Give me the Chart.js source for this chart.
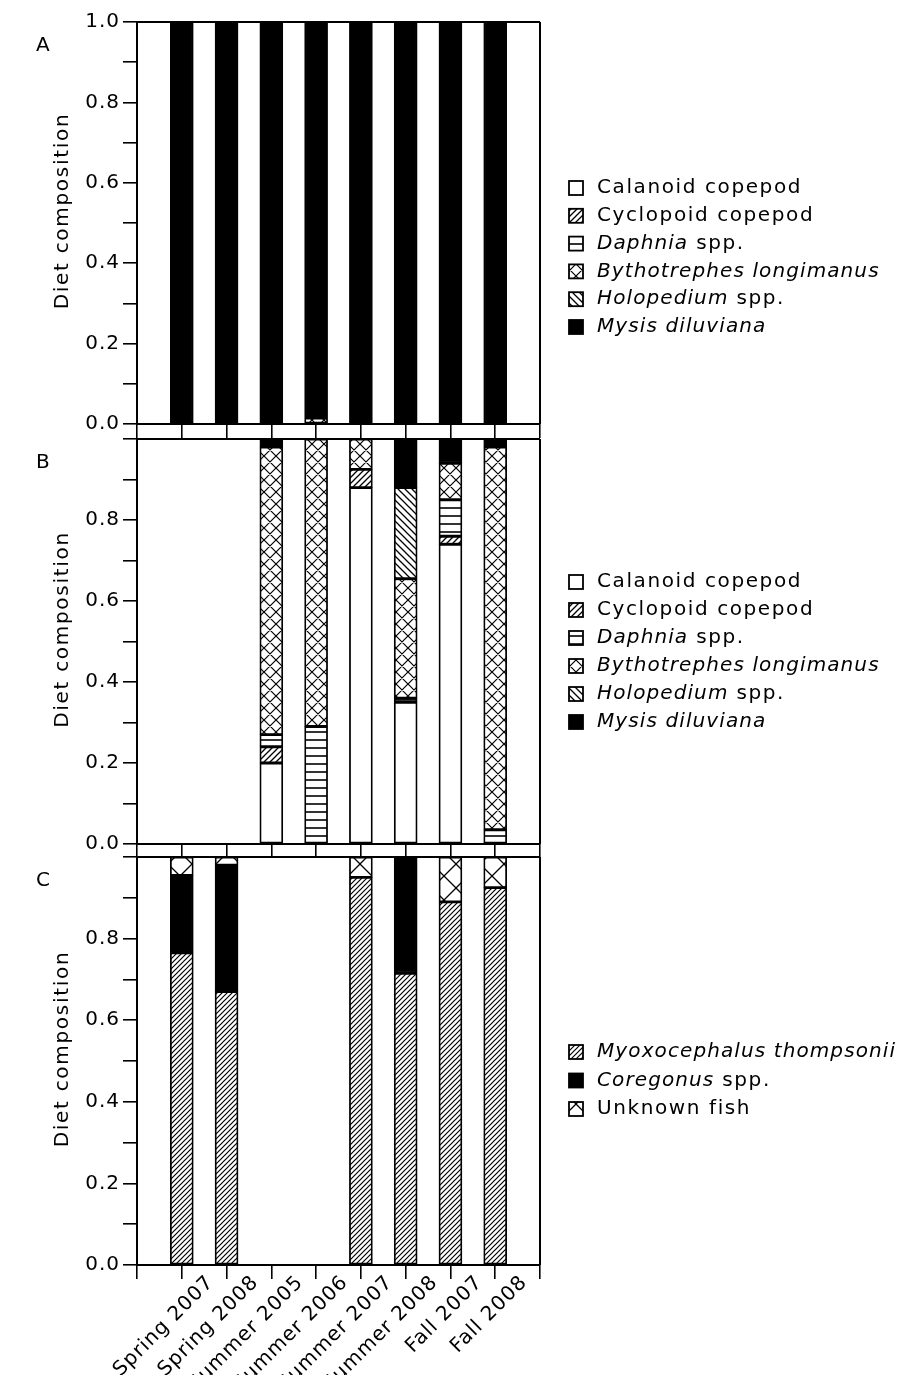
<!DOCTYPE html>
<html><head><meta charset="utf-8">
<script src="https://cdn.jsdelivr.net/npm/chart.js@4.4.1/dist/chart.umd.min.js"></script>
<style>
html,body{margin:0;padding:0;background:#fff;}
#wrap{position:relative;width:904px;height:1389px;overflow:hidden;background:#fff;}
canvas{position:absolute;left:0;top:0;}
</style></head><body>
<div id="wrap">
<canvas id="cA" width="904" height="1389"></canvas>
<canvas id="cB" width="904" height="1389"></canvas>
<canvas id="cC" width="904" height="1389"></canvas>
</div>
<script>
// ---------- data ----------
const categories = ['Spring 2007','Spring 2008','Summer 2005','Summer 2006','Summer 2007','Summer 2008','Fall 2007','Fall 2008'];

// Panel A
const aCalanoid     = [0, 0, 0, 0, 0, 0, 0, 0];
const aCyclopoid    = [0, 0, 0, 0, 0, 0, 0, 0];
const aDaphnia      = [0, 0, 0, 0, 0, 0, 0, 0];
const aBythotrephes = [0, 0, 0, 0.015, 0, 0, 0, 0];
const aHolopedium   = [0, 0, 0, 0, 0, 0, 0, 0];
const aMysis        = [1, 1, 1, 0.985, 1, 1, 1, 1];

// Panel B
const bCalanoid     = [null, null, 0.20, 0,    0.88,  0.35,  0.74, 0];
const bCyclopoid    = [null, null, 0.04, 0,    0.045, 0,     0.02, 0];
const bDaphnia      = [null, null, 0.03, 0.29, 0,     0.01,  0.09, 0.035];
const bBythotrephes = [null, null, 0.71, 0.71, 0.075, 0.295, 0.09, 0.945];
const bHolopedium   = [null, null, 0,    0,    0,     0.225, 0,    0];
const bMysis        = [null, null, 0.02, 0,    0,     0.12,  0.06, 0.02];

// Panel C
const cMyoxocephalus = [0.765, 0.67, 0, 0, 0.95, 0.715, 0.89, 0.925];
const cCoregonus     = [0.19,  0.31, 0, 0, 0,    0.285, 0,    0];
const cUnknownFish   = [0.045, 0.02, 0, 0, 0.05, 0,     0.11, 0.075];

const yAxisTitle = 'Diet composition';
const panelLetters = ['A', 'B', 'C'];
const zooLegend = [
  [['Calanoid copepod', false]],
  [['Cyclopoid copepod', false]],
  [['Daphnia', true], [' spp.', false]],
  [['Bythotrephes longimanus', true]],
  [['Holopedium', true], [' spp.', false]],
  [['Mysis diluviana', true]]
];
const fishLegend = [
  [['Myoxocephalus thompsonii', true]],
  [['Coregonus', true], [' spp.', false]],
  [['Unknown fish', false]]
];

// ---------- styling helpers ----------
const FONT = '"DejaVu Sans"';
Chart.defaults.font.family = 'DejaVu Sans';
Chart.defaults.font.size = 20;
Chart.defaults.color = '#000';

function pat(ctx, s, lw, fn) {
  const c = document.createElement('canvas');
  c.width = s; c.height = s;
  const g = c.getContext('2d');
  g.fillStyle = '#fff'; g.fillRect(0, 0, s, s);
  g.strokeStyle = '#000'; g.lineWidth = lw;
  g.beginPath(); fn(g, s); g.stroke();
  return ctx.createPattern(c, 'repeat');
}
const fwd = (g, s) => { g.moveTo(-1, s + 1); g.lineTo(s + 1, -1); g.moveTo(-1, 1); g.lineTo(1, -1); g.moveTo(s - 1, s + 1); g.lineTo(s + 1, s - 1); };
const back = (g, s) => { g.moveTo(-1, -1); g.lineTo(s + 1, s + 1); g.moveTo(s - 1, -1); g.lineTo(s + 1, 1); g.moveTo(-1, s - 1); g.lineTo(1, s + 1); };
const cross = (g, s) => { fwd(g, s); back(g, s); };
const horiz = (g, s) => { g.moveTo(0, s / 2); g.lineTo(s, s / 2); };

function ds(label, values, bg) {
  return {
    label, backgroundColor: bg, borderColor: '#000', borderWidth: 1.8, borderSkipped: false,
    barThickness: 23,
    data: values.map((v, i) => ({ x: i, y: v }))
  };
}

const decor = {
  id: 'decor',
  afterInit(chart) { chart.ctx.letterSpacing = '1px'; },
  afterDraw(chart, args, o) {
    const ctx = chart.ctx, a = chart.chartArea;
    ctx.save();
    // top and right frame
    ctx.strokeStyle = '#000'; ctx.lineWidth = 2;
    ctx.beginPath();
    ctx.moveTo(a.left, a.top); ctx.lineTo(a.right, a.top);
    ctx.moveTo(a.right, a.top); ctx.lineTo(a.right, a.bottom);
    ctx.stroke();
    ctx.fillStyle = '#000';
    // panel letter
    ctx.font = '20px ' + FONT; ctx.textAlign = 'left'; ctx.textBaseline = 'middle';
    ctx.fillText(o.letter, 36, a.top + 24);
    // axis title
    ctx.save();
    ctx.translate(63, (a.top + a.bottom) / 2 - 12);
    ctx.rotate(-Math.PI / 2);
    ctx.font = '20px ' + FONT; ctx.textAlign = 'center'; ctx.textBaseline = 'middle';
    ctx.letterSpacing = '1.7px';
    ctx.fillText(yAxisTitle, 0, 0);
    ctx.restore();
    // legend
    const dsets = chart.data.datasets;
    o.legend.forEach((parts, i) => {
      const y = o.legendTop + i * o.legendStep;
      ctx.fillStyle = dsets[i].backgroundColor;
      ctx.fillRect(569, y - 7, 14, 14);
      ctx.strokeStyle = '#000'; ctx.lineWidth = 1.8;
      ctx.strokeRect(569, y - 7, 14, 14);
      let tx = 597;
      ctx.fillStyle = '#000'; ctx.textAlign = 'left'; ctx.textBaseline = 'middle';
      parts.forEach(([t, it]) => {
        ctx.font = (it ? 'italic ' : '') + '20px ' + FONT;
        ctx.letterSpacing = it ? '1.1px' : '1.6px';
        ctx.fillText(t, tx, y);
        tx += ctx.measureText(t).width;
      });
    });
    ctx.restore();
  }
};

function makeChart(id, datasets, opt) {
  const ctx = document.getElementById(id).getContext('2d');
  return new Chart(ctx, {
    type: 'bar',
    data: { datasets: datasets(ctx) },
    plugins: [decor],
    options: {
      responsive: false, animation: false, events: [], devicePixelRatio: 1,
      layout: { padding: { left: 0, right: 364, top: opt.top, bottom: opt.bottom } },
      plugins: { legend: { display: false }, tooltip: { enabled: false },
        decor: { letter: opt.letter, legend: opt.legend, legendTop: opt.legendTop, legendStep: opt.legendStep } },
      scales: {
        x: {
          type: 'linear', min: -1, max: 8, offset: false, stacked: true,
          grid: { display: true, drawOnChartArea: false, drawTicks: true, tickLength: 14, color: '#000', lineWidth: 1.6, offset: false },
          border: { display: true, color: '#000', width: 2 },
          ticks: { stepSize: 1, autoSkip: false, display: opt.showX, maxRotation: 45, minRotation: 45,
            labelOffset: 29, padding: -8, font: { size: 20 },
            callback: v => (categories[v] !== undefined ? categories[v] : '') },
          afterFit: s => { s.height = opt.xh; }
        },
        y: {
          type: 'linear', min: 0, max: 1, stacked: true,
          grid: { display: true, drawOnChartArea: false, drawTicks: true, tickLength: 14, color: '#000', lineWidth: 1.6 },
          border: { display: true, color: '#000', width: 2 },
          ticks: { stepSize: 0.1, autoSkip: false, padding: 3, font: { size: 20 },
            callback: v => { const k = Math.round(v * 10); if (k % 2) return ''; if (k === 10 && !opt.showTop) return ''; return (k / 10).toFixed(1); } },
          afterFit: s => { s.width = 137; }
        }
      }
    }
  });
}

makeChart('cA', ctx => [
  ds('Calanoid copepod', aCalanoid, '#fff'),
  ds('Cyclopoid copepod', aCyclopoid, pat(ctx, 6, 1.3, fwd)),
  ds('Daphnia spp.', aDaphnia, pat(ctx, 8, 1.6, horiz)),
  ds('Bythotrephes longimanus', aBythotrephes, pat(ctx, 12, 1.2, cross)),
  ds('Holopedium spp.', aHolopedium, pat(ctx, 7, 1.3, back)),
  ds('Mysis diluviana', aMysis, '#000')
], { top: 22, bottom: 1389 - 424 - 14, xh: 14, showX: false, showTop: true, letter: panelLetters[0], legend: zooLegend, legendTop: 188, legendStep: 27.8 });

makeChart('cB', ctx => [
  ds('Calanoid copepod', bCalanoid, '#fff'),
  ds('Cyclopoid copepod', bCyclopoid, pat(ctx, 6, 1.3, fwd)),
  ds('Daphnia spp.', bDaphnia, pat(ctx, 8, 1.6, horiz)),
  ds('Bythotrephes longimanus', bBythotrephes, pat(ctx, 12, 1.2, cross)),
  ds('Holopedium spp.', bHolopedium, pat(ctx, 7, 1.3, back)),
  ds('Mysis diluviana', bMysis, '#000')
], { top: 439, bottom: 1389 - 844 - 14, xh: 14, showX: false, showTop: false, letter: panelLetters[1], legend: zooLegend, legendTop: 582, legendStep: 28 });

makeChart('cC', ctx => [
  ds('Myoxocephalus thompsonii', cMyoxocephalus, pat(ctx, 5, 1.2, fwd)),
  ds('Coregonus spp.', cCoregonus, '#000'),
  ds('Unknown fish', cUnknownFish, pat(ctx, 24, 1.3, cross))
], { top: 857, bottom: 14, xh: 1389 - 14 - 1265, showX: true, showTop: false, letter: panelLetters[2], legend: fishLegend, legendTop: 1052, legendStep: 28.5 });
</script>
</body></html>
